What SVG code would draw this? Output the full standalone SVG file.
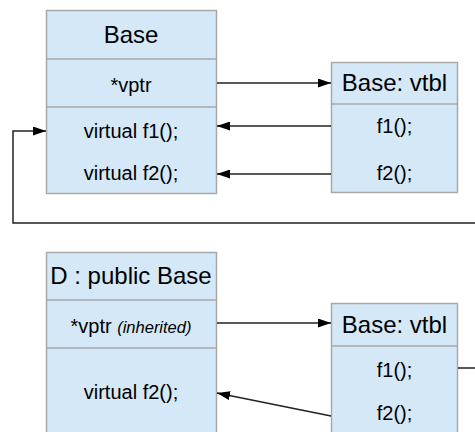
<svg xmlns="http://www.w3.org/2000/svg" width="475" height="432" viewBox="0 0 475 432">
<style>
.box{fill:#d5e8f7;stroke:#a9a9a9;stroke-width:1.5}
.div{stroke:#a9a9a9;stroke-width:1.5}
.big{font-family:"Liberation Sans",Arial,sans-serif;font-size:24px;fill:#000;text-anchor:middle}
.sm{font-family:"Liberation Sans",Arial,sans-serif;font-size:20px;fill:#000;text-anchor:middle}
.it{font-style:italic;font-size:16.5px}
.ln{fill:none;stroke:#222;stroke-width:1.5}
</style>
<defs>
<marker id="ah" viewBox="0 0 13 9" refX="13" refY="4.5" markerWidth="13" markerHeight="9" markerUnits="userSpaceOnUse" orient="auto">
<path d="M0,0 L13,4.5 L0,9 Z" fill="#000"/>
</marker>
</defs>
<rect width="475" height="432" fill="#fff"/>
<g id="base">
<rect class="box" x="46.5" y="10.5" width="170" height="183"/>
<line class="div" x1="46.5" y1="59" x2="216.5" y2="59"/>
<line class="div" x1="46.5" y1="107" x2="216.5" y2="107"/>
<text class="big" x="131" y="43">Base</text>
<text class="sm" x="131" y="92">*vptr</text>
<text class="sm" x="131" y="138">virtual f1();</text>
<text class="sm" x="131" y="180">virtual f2();</text>
</g>
<g id="base-vtbl">
<rect class="box" x="331.5" y="62.5" width="126" height="130"/>
<line class="div" x1="331.5" y1="104" x2="457.5" y2="104"/>
<text class="big" x="394.5" y="91">Base: vtbl</text>
<text class="sm" x="394.5" y="133">f1();</text>
<text class="sm" x="394.5" y="180">f2();</text>
</g>
<g id="derived">
<rect class="box" x="46.5" y="252.5" width="170" height="190"/>
<line class="div" x1="46.5" y1="300" x2="216.5" y2="300"/>
<line class="div" x1="46.5" y1="348" x2="216.5" y2="348"/>
<text class="big" x="131" y="284">D : public Base</text>
<text class="sm" x="131" y="333">*vptr <tspan class="it">(inherited)</tspan></text>
<text class="sm" x="131" y="399">virtual f2();</text>
</g>
<g id="derived-vtbl">
<rect class="box" x="331.5" y="303.5" width="126" height="140"/>
<line class="div" x1="331.5" y1="346" x2="457.5" y2="346"/>
<text class="big" x="394.5" y="333">Base: vtbl</text>
<text class="sm" x="394.5" y="377">f1();</text>
<text class="sm" x="394.5" y="420">f2();</text>
</g>
<g id="connectors">
<line class="ln" x1="217" y1="83" x2="331" y2="83" marker-end="url(#ah)"/>
<line class="ln" x1="331" y1="126" x2="217" y2="126" marker-end="url(#ah)"/>
<line class="ln" x1="331" y1="174" x2="217" y2="174" marker-end="url(#ah)"/>
<path class="ln" d="M458,368 H490 V223 H13 V131 H46" marker-end="url(#ah)"/>
<line class="ln" x1="217" y1="323" x2="331" y2="323" marker-end="url(#ah)"/>
<line class="ln" x1="331" y1="416" x2="217" y2="393" marker-end="url(#ah)"/>
</g>
</svg>
